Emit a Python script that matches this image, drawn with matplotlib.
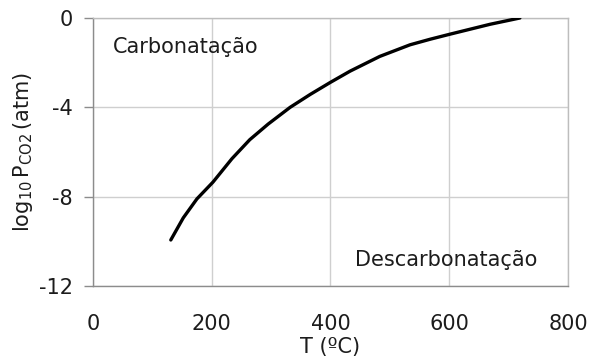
import numpy as np
import matplotlib
matplotlib.use("Agg")
import matplotlib.pyplot as plt

# Equilibrium curve of the carbonation reaction (T in ºC, log10 of P_CO2 in atm)
temp_c = [131, 152, 175, 202, 234, 264, 295, 332, 366, 400, 433,
          483, 534, 568, 602, 669, 719]
log_pco2 = [-9.94, -8.95, -8.1, -7.35, -6.3, -5.45, -4.75, -4.0, -3.42,
            -2.88, -2.38, -1.72, -1.20, -0.95, -0.72, -0.28, 0.0]

x_ticks = [0, 200, 400, 600, 800]
y_ticks = [-12, -8, -4, 0]

plt.rcParams['font.family'] = ['DejaVu Sans']
plt.rcParams['mathtext.fontset'] = 'dejavusans'

txt = '#1c1c1c'
fs = 15

fig = plt.figure(figsize=(5.91, 3.6), dpi=100)
ax = fig.add_axes([0.1574, 0.2056, 0.8036, 0.7444])

ax.plot(temp_c, log_pco2, color='black', lw=2.4, solid_capstyle='round',
        solid_joinstyle='round', zorder=3)

ax.set_xlim(0, 800)
ax.set_ylim(-12, 0)
ax.set_xticks(x_ticks)
ax.set_yticks(y_ticks)
ax.set_yticklabels([str(v) for v in y_ticks])
ax.grid(True, color='#cfcfcf', lw=1.0)
ax.set_axisbelow(True)

for s in ax.spines.values():
    s.set_color('#bdbdbd')
    s.set_linewidth(1.0)
ax.spines['left'].set_color('#8c8c8c')
ax.spines['bottom'].set_color('#8c8c8c')

ax.tick_params(axis='x', length=0, pad=20, labelsize=fs, labelcolor=txt)
ax.tick_params(axis='y', length=6.5, width=1.0, color='#8c8c8c', pad=8, labelsize=fs, labelcolor=txt)

ax.set_xlabel('T (ºC)', fontsize=fs, color=txt, labelpad=2)
ax.set_ylabel(r'$\mathregular{log_{10}\,P_{CO2}\,(atm)}$', fontsize=fs, color=txt, labelpad=3)

ax.text(34, -1.3, 'Carbonatação', fontsize=fs, color=txt, va='center', ha='left')
ax.text(441, -10.84, 'Descarbonatação', fontsize=fs, color=txt, va='center', ha='left')

fig.savefig('out.png', dpi=100)
